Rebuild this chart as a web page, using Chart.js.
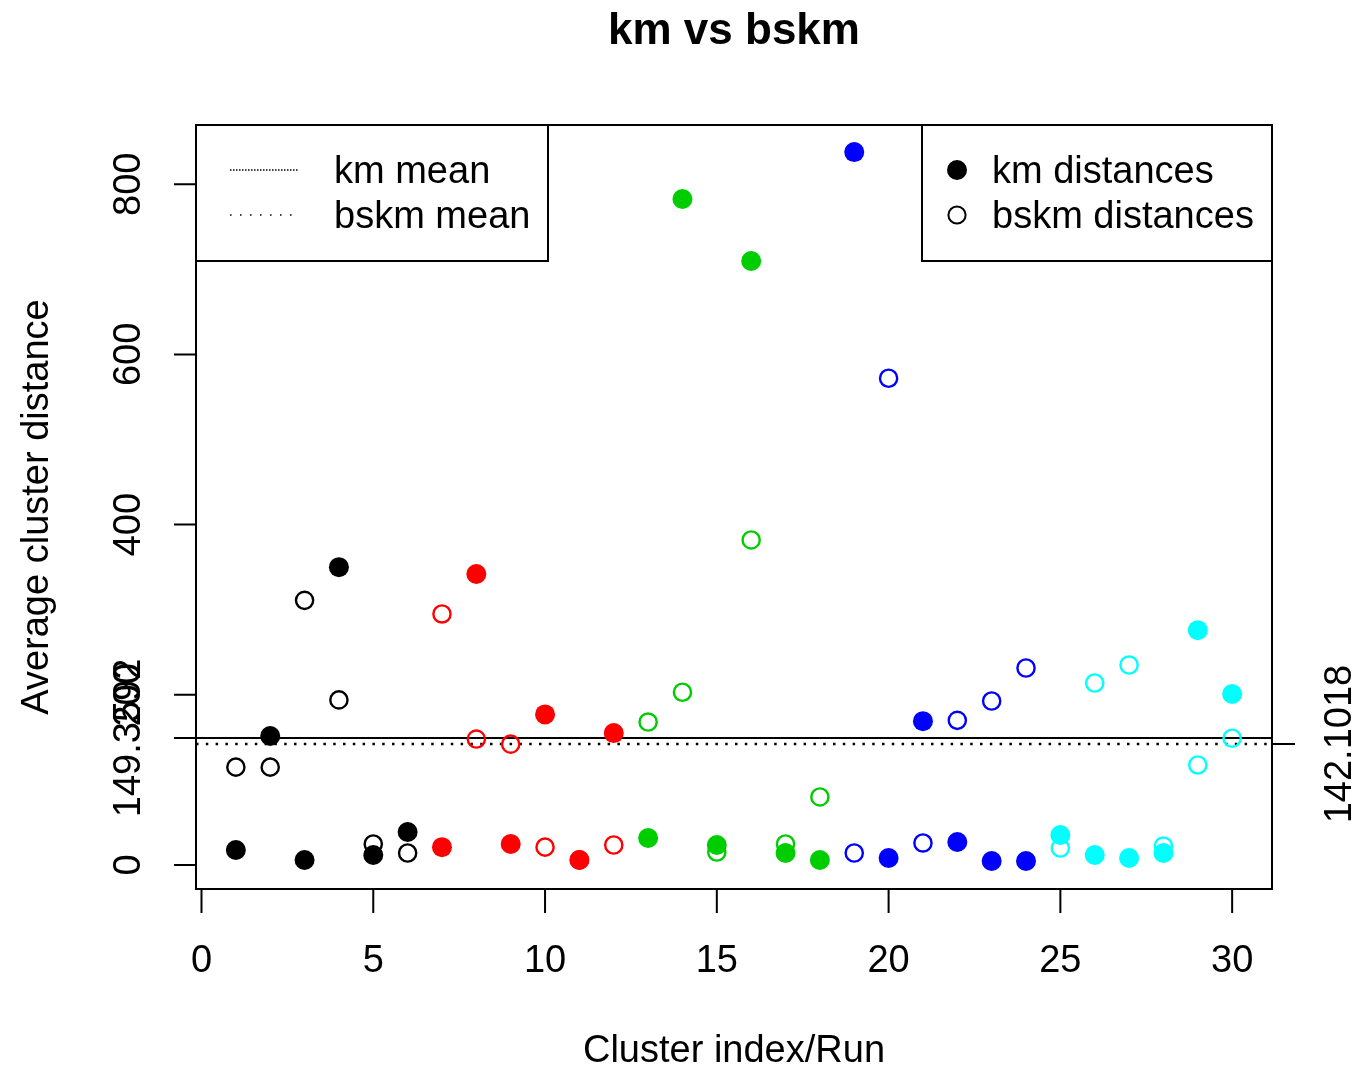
<!DOCTYPE html>
<html>
<head>
<meta charset="utf-8">
<title>km vs bskm</title>
<script src="https://cdn.jsdelivr.net/npm/chart.js@4/dist/chart.umd.min.js"></script>
<style>
  body { margin: 0; background: #fff; }
  #wrap { width: 1365px; height: 1071px; }
</style>
</head>
<body>
<div id="wrap"><canvas id="chart" width="1365" height="1071"></canvas></div>
<script>
// data
const runs = [1, 2, 3, 4, 5, 6, 7, 8, 9, 10, 11, 12, 13, 14, 15, 16, 17, 18, 19, 20, 21, 22, 23, 24, 25, 26, 27, 28, 29, 30];
const kmDist = [17.6, 151.6, 5.9, 350, 11.7, 38.8, 21, 342, 24.7, 177, 5.9, 155, 31.7, 782.6, 23.5, 709.8, 14.1, 5.9, 837.8, 8.2, 169, 27, 4.7, 4.7, 35.3, 11.7, 8.2, 14.1, 276, 201];
const bskmDist = [115, 115, 311, 194, 24.7, 14.1, 295, 148, 142, 21, 6, 23.5, 168, 203, 15.3, 382, 24.7, 80, 14.1, 572, 25.9, 170, 192.7, 231.5, 20, 213.9, 235, 22.3, 117.5, 149];
const kmMean = 149.3592;
const bskmMean = 142.1018;
const xTicks = [0, 5, 10, 15, 20, 25, 30];
const yTicks = [0, 200, 400, 600, 800];

// one colour per block of 6 runs (R palette 1..5)
const palette = ["#000000", "#FF0000", "#00CD00", "#0000FF", "#00FFFF"];
const runColors = runs.map(r => palette[Math.floor((r - 1) / 6)]);

const FONT = "'Liberation Sans', Arial, Helvetica, sans-serif";
const xMin = -0.16, xMax = 31.16;

const rAxes = {
  id: "rAxes",
  afterDraw(chart) {
    const ctx = chart.ctx;
    const { left, right, top, bottom } = chart.chartArea;
    const xs = chart.scales.x, ys = chart.scales.y;
    ctx.save();
    ctx.strokeStyle = "#000";
    ctx.fillStyle = "#000";
    ctx.lineWidth = 2;

    // box
    ctx.strokeRect(left, top, right - left, bottom - top);

    // x axis ticks + labels
    ctx.beginPath();
    ctx.moveTo(xs.getPixelForValue(xTicks[0]), bottom);
    ctx.lineTo(xs.getPixelForValue(xTicks[xTicks.length - 1]), bottom);
    xTicks.forEach(v => {
      const px = xs.getPixelForValue(v);
      ctx.moveTo(px, bottom);
      ctx.lineTo(px, bottom + 24);
    });
    ctx.stroke();
    ctx.font = "38px " + FONT;
    ctx.textAlign = "center";
    ctx.textBaseline = "middle";
    xTicks.forEach(v => ctx.fillText(String(v), xs.getPixelForValue(v), 962));

    // y axis ticks (plus km mean)
    const yAll = yTicks.concat([kmMean]);
    ctx.beginPath();
    ctx.moveTo(left, ys.getPixelForValue(yTicks[0]));
    ctx.lineTo(left, ys.getPixelForValue(yTicks[yTicks.length - 1]));
    yAll.forEach(v => {
      const py = ys.getPixelForValue(v);
      ctx.moveTo(left - 22, py);
      ctx.lineTo(left, py);
    });
    // right side tick for bskm mean
    const pb = ys.getPixelForValue(bskmMean);
    ctx.moveTo(right, pb);
    ctx.lineTo(right + 23, pb);
    ctx.stroke();

    // rotated y tick labels
    const rotText = (txt, x, y) => {
      ctx.save();
      ctx.translate(x, y);
      ctx.rotate(-Math.PI / 2);
      ctx.fillText(txt, 0, 0);
      ctx.restore();
    };
    yTicks.forEach(v => rotText(String(v), 130, ys.getPixelForValue(v)));
    rotText(kmMean.toFixed(4), 130, ys.getPixelForValue(kmMean));
    rotText(bskmMean.toFixed(4), 1341, pb);

    // axis titles and main title
    ctx.fillText("Cluster index/Run", (left + right) / 2, 1052);
    rotText("Average cluster distance", 38, (top + bottom) / 2);
    ctx.font = "bold 44px " + FONT;
    ctx.fillText("km vs bskm", (left + right) / 2, 32);

    // legend: means (top left)
    ctx.fillStyle = "#fff";
    ctx.fillRect(left, top, 352, 136);
    ctx.strokeRect(left, top, 352, 136);
    ctx.lineWidth = 1.5;
    ctx.setLineDash([1.5, 1.5]);
    ctx.beginPath(); ctx.moveTo(230, 170); ctx.lineTo(299, 170); ctx.stroke();
    ctx.setLineDash([1.5, 8.5]);
    ctx.beginPath(); ctx.moveTo(230, 215); ctx.lineTo(292, 215); ctx.stroke();
    ctx.setLineDash([]);
    ctx.fillStyle = "#000";
    ctx.textAlign = "left";
    ctx.font = "38px " + FONT;
    ctx.fillText("km mean", 334, 173);
    ctx.fillText("bskm mean", 334, 218);

    // legend: distances (top right)
    ctx.lineWidth = 2;
    ctx.fillStyle = "#fff";
    ctx.fillRect(922, top, right - 922, 136);
    ctx.strokeRect(922, top, right - 922, 136);
    ctx.fillStyle = "#000";
    ctx.beginPath(); ctx.arc(957, 170, 10, 0, Math.PI * 2); ctx.fill();
    ctx.beginPath(); ctx.arc(957, 215, 8.6, 0, Math.PI * 2); ctx.stroke();
    ctx.fillText("km distances", 992, 173);
    ctx.fillText("bskm distances", 992, 218);
    ctx.restore();
  }
};

const ctx = document.getElementById("chart").getContext("2d");
new Chart(ctx, {
  type: "scatter",
  data: {
    datasets: [
      {
        label: "km distances",
        data: runs.map((r, i) => ({ x: r, y: kmDist[i] })),
        pointRadius: 10,
        pointBorderWidth: 0,
        pointBackgroundColor: runColors,
        pointBorderColor: runColors,
        order: 1
      },
      {
        label: "bskm distances",
        data: runs.map((r, i) => ({ x: r, y: bskmDist[i] })),
        pointRadius: 8.6,
        pointBorderWidth: 2.4,
        pointBackgroundColor: "rgba(0,0,0,0)",
        pointBorderColor: runColors,
        order: 2
      },
      {
        type: "line",
        label: "km mean",
        data: [{ x: xMin, y: kmMean }, { x: xMax, y: kmMean }],
        borderColor: "#000",
        borderWidth: 2,
        pointRadius: 0,
        order: 3
      },
      {
        type: "line",
        label: "bskm mean",
        data: [{ x: xMin, y: bskmMean }, { x: xMax, y: bskmMean }],
        borderColor: "#000",
        borderWidth: 2.5,
        borderDash: [2.5, 7.3],
        pointRadius: 0,
        order: 4
      }
    ]
  },
  options: {
    responsive: false,
    animation: false,
    layout: { padding: { left: 196, right: 93, top: 125, bottom: 182 } },
    plugins: {
      legend: { display: false },
      title: { display: false },
      tooltip: { enabled: false }
    },
    scales: {
      x: { type: "linear", min: xMin, max: xMax, display: false },
      y: { type: "linear", min: -28.2, max: 869.6, display: false }
    }
  },
  plugins: [rAxes]
});
</script>
</body>
</html>
